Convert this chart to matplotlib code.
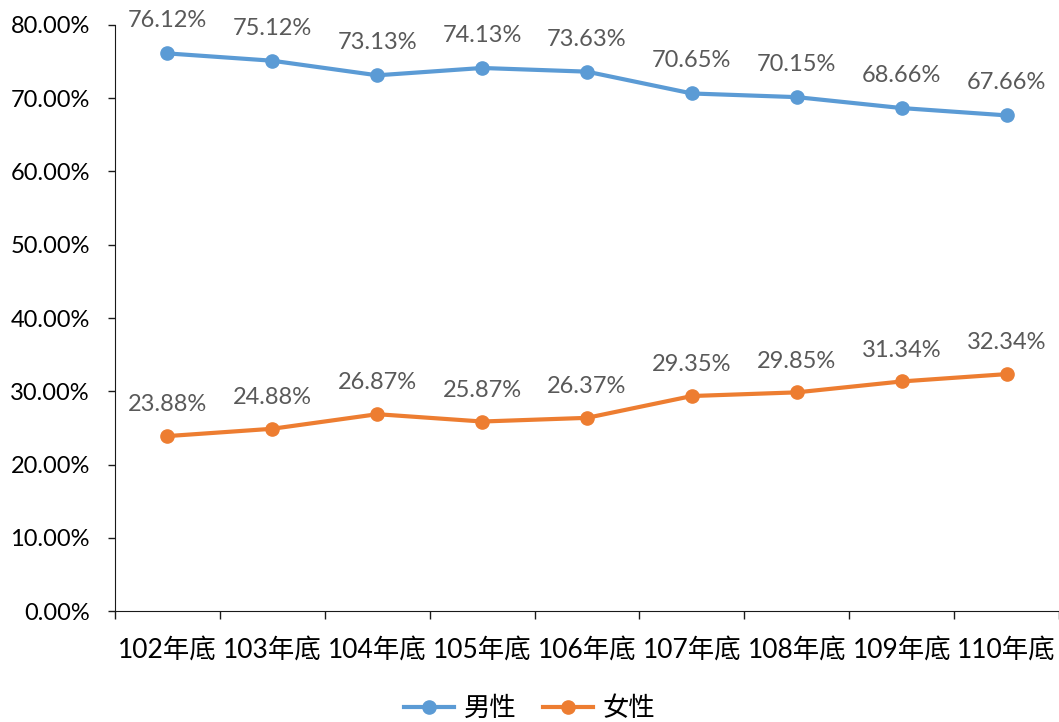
import matplotlib.pyplot as plt
import matplotlib.ticker as mticker
import numpy as np

plt.rcParams['font.family'] = ['Lato', 'Noto Sans CJK TC', 'DejaVu Sans']

categories = ["102年底", "103年底", "104年底", "105年底", "106年底",
              "107年底", "108年底", "109年底", "110年底"]
male = [76.12, 75.12, 73.13, 74.13, 73.63, 70.65, 70.15, 68.66, 67.66]
female = [23.88, 24.88, 26.87, 25.87, 26.37, 29.35, 29.85, 31.34, 32.34]

blue = "#5B9BD5"
orange = "#ED7D31"
text_gray = "#595959"
axis_color = "#1a1a1a"

fig = plt.figure(figsize=(10.59, 7.22), dpi=100)
ax = fig.add_axes([0.1086, 0.1537, 0.8914, 0.8117])

x = np.arange(len(categories))
ax.plot(x, male, color=blue, lw=3, marker="o", ms=9.5, label="男性")
ax.plot(x, female, color=orange, lw=3, marker="o", ms=9.5, label="女性")

# Data labels above each point
for xi, v in zip(x, male):
    ax.annotate(f"{v:.2f}%", (xi, v), xytext=(0, 23.5), textcoords="offset points",
                ha="center", va="center", fontsize=17, color=text_gray)
for xi, v in zip(x, female):
    ax.annotate(f"{v:.2f}%", (xi, v), xytext=(0, 22.5), textcoords="offset points",
                ha="center", va="center", fontsize=17, color=text_gray)

ax.set_xlim(-0.5, len(categories) - 0.5)
ax.set_ylim(0, 80)
ax.yaxis.set_major_locator(mticker.MultipleLocator(10))
ax.yaxis.set_major_formatter(mticker.FuncFormatter(lambda v, p: f"{v:.2f}%"))
ax.tick_params(axis="y", length=5, width=1, color=axis_color, labelsize=17, pad=13)

# Category labels in the middle, tick marks on the boundaries
ax.set_xticks(x)
ax.set_xticklabels(categories, fontsize=19)
ax.tick_params(axis="x", which="major", length=0, pad=19)
ax.set_xticks(np.arange(-0.5, len(categories) + 0.5, 1), minor=True)
ax.tick_params(axis="x", which="minor", length=6, color=axis_color, width=1)

for side in ["top", "right"]:
    ax.spines[side].set_visible(False)
ax.spines["left"].set_color(axis_color)
ax.spines["bottom"].set_color(axis_color)

fig.legend(loc="lower center", bbox_to_anchor=(0.5, -0.032), ncol=2, frameon=False,
           fontsize=19, handlelength=1.9, columnspacing=1.0, handletextpad=0.35)

fig.savefig("out.png", dpi=100)
